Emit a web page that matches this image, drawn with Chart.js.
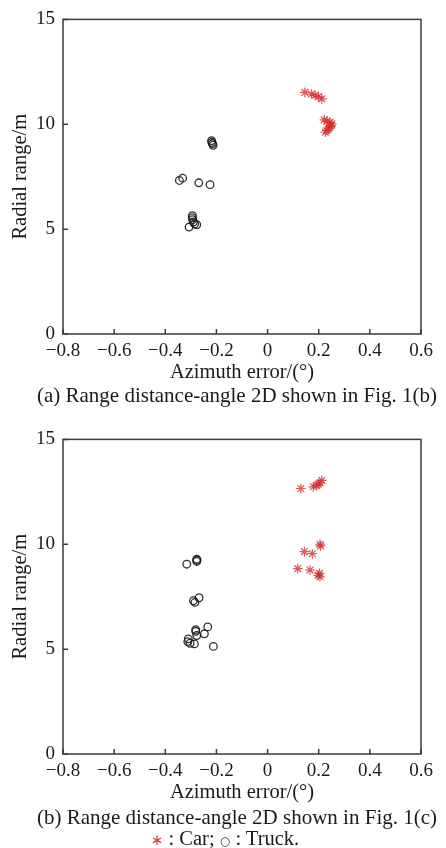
<!DOCTYPE html>
<html><head><meta charset="utf-8">
<script src="https://cdn.jsdelivr.net/npm/chart.js@4/dist/chart.umd.min.js"></script>
<style>
html,body{margin:0;padding:0;background:#fff;}
body{width:446px;height:848px;position:relative;overflow:hidden;font-family:"Liberation Serif","Times New Roman",serif;color:#1a1a1a;}
.cv{position:absolute;left:0;width:446px;height:400px;}
.cap{position:absolute;left:0;width:446px;text-align:center;font-size:21px;line-height:24px;white-space:nowrap;}
.star{color:#d83a3a;font-family:"DejaVu Sans",sans-serif;font-size:15px;}
.circ{font-family:"DejaVu Sans",sans-serif;font-size:12px;}
</style></head><body>
<div class="cv" style="top:0"><canvas id="c1" width="446" height="400"></canvas></div>
<div class="cv" style="top:420px"><canvas id="c2" width="446" height="400"></canvas></div>
<div class="cap" style="top:383px;left:14px">(a) Range distance-angle 2D shown in Fig. 1(b)</div>
<div class="cap" style="top:805px;left:14px">(b) Range distance-angle 2D shown in Fig. 1(c)</div>
<div class="cap" style="top:826px;left:2px;font-size:20.5px"><span class="star">∗</span> : Car; <span class="circ">○</span> : Truck.</div>
<script>
// ---- data ----
const xTicks = [-0.8, -0.6, -0.4, -0.2, 0, 0.2, 0.4, 0.6];
const yTicks = [0, 5, 10, 15];
const xTitle = 'Azimuth error/(°)';
const yTitle = 'Radial range/m';

// (a) Fig. 1(b)
const carAX = [0.146, 0.172, 0.186, 0.199, 0.212, 0.222, 0.232, 0.244, 0.251, 0.248, 0.244, 0.238, 0.232, 0.226];
const carAY = [11.52, 11.44, 11.38, 11.32, 11.21, 10.21, 10.15, 10.08, 10.02, 9.94, 9.86, 9.78, 9.70, 9.62];
const truckAX = [-0.219, -0.218, -0.215, -0.213, -0.345, -0.332, -0.269, -0.225, -0.294, -0.294, -0.293, -0.290, -0.277, -0.307, -0.285];
const truckAY = [9.22, 9.14, 9.08, 9.00, 7.32, 7.43, 7.21, 7.12, 5.64, 5.55, 5.45, 5.34, 5.21, 5.10, 5.25];

// (b) Fig. 1(c)
const carBX = [0.130, 0.179, 0.192, 0.205, 0.212, 0.198, 0.205, 0.207, 0.144, 0.175, 0.118, 0.166, 0.203, 0.205, 0.198];
const carBY = [12.66, 12.74, 12.81, 12.93, 13.05, 12.87, 10.00, 9.92, 9.65, 9.55, 8.84, 8.77, 8.61, 8.45, 8.52];
const truckBX = [-0.316, -0.277, -0.277, -0.276, -0.290, -0.268, -0.284, -0.234, -0.281, -0.281, -0.247, -0.277, -0.310, -0.312, -0.303, -0.286, -0.212];
const truckBY = [9.05, 9.29, 9.18, 9.24, 7.31, 7.45, 7.23, 6.06, 5.93, 5.85, 5.73, 5.65, 5.49, 5.36, 5.28, 5.25, 5.13];

// ---- drawing ----
const FONT = '"Liberation Serif","Times New Roman",serif';
const TXT = '#1a1a1a';
const pts = (xs, ys) => xs.map((x, i) => ({x: x, y: ys[i]}));
const fmtX = v => v === 0 ? '0' : (v < 0 ? '\u2212' : '') + Math.abs(v).toFixed(1);

const framePlugin = {
  id: 'frame',
  beforeDatasetsDraw(chart) {
    const {ctx, chartArea: a, scales: {x, y}} = chart;
    ctx.save();
    ctx.strokeStyle = '#3a3a3a';
    ctx.lineWidth = 1.5;
    ctx.strokeRect(a.left, a.top, a.right - a.left, a.bottom - a.top);
    ctx.beginPath();
    xTicks.forEach(v => { const p = x.getPixelForValue(v); ctx.moveTo(p, a.bottom); ctx.lineTo(p, a.bottom - 5); });
    yTicks.forEach(v => { const p = y.getPixelForValue(v); ctx.moveTo(a.left, p); ctx.lineTo(a.left + 5, p); });
    ctx.stroke();
    ctx.restore();
  }
};

function makeChart(id, carX, carY, truckX, truckY) {
  return new Chart(document.getElementById(id), {
    type: 'scatter',
    data: {
      datasets: [
        {label: 'Truck', data: pts(truckX, truckY), pointStyle: 'circle', pointRadius: 3.8,
         borderColor: 'rgba(25,25,25,0.9)', backgroundColor: 'rgba(0,0,0,0)', pointBorderWidth: 1.3, showLine: false},
        {label: 'Car', data: pts(carX, carY), pointStyle: 'star', pointRadius: 4.8,
         borderColor: 'rgba(214,45,45,0.8)', backgroundColor: 'rgba(214,45,45,0.8)', pointBorderWidth: 1.2, showLine: false}
      ]
    },
    options: {
      responsive: false, animation: false, events: [],
      layout: {padding: {top: 18, right: 25, left: 0, bottom: 0}},
      plugins: {legend: {display: false}, tooltip: {enabled: false}},
      scales: {
        x: {
          type: 'linear', min: -0.8, max: 0.6,
          afterBuildTicks: s => { s.ticks = xTicks.map(v => ({value: v})); },
          afterFit: s => { s.height = 66; },
          grid: {display: false, drawTicks: false}, border: {display: false},
          ticks: {padding: 6, color: TXT, font: {family: FONT, size: 19}, callback: v => fmtX(v)},
          title: {display: true, text: xTitle, color: TXT, font: {family: FONT, size: 20.5}, padding: {top: 0, bottom: 15}}
        },
        y: {
          type: 'linear', min: 0, max: 15,
          afterBuildTicks: s => { s.ticks = yTicks.map(v => ({value: v})); },
          afterFit: s => { s.width = 63; },
          grid: {display: false, drawTicks: false}, border: {display: false},
          ticks: {padding: 8, color: TXT, font: {family: FONT, size: 19}, callback: v => String(v)},
          title: {display: true, text: yTitle, color: TXT, font: {family: FONT, size: 20.5}, padding: {top: 8, bottom: 0}}
        }
      }
    },
    plugins: [framePlugin]
  });
}
makeChart('c1', carAX, carAY, truckAX, truckAY);
makeChart('c2', carBX, carBY, truckBX, truckBY);
</script>
</body></html>
